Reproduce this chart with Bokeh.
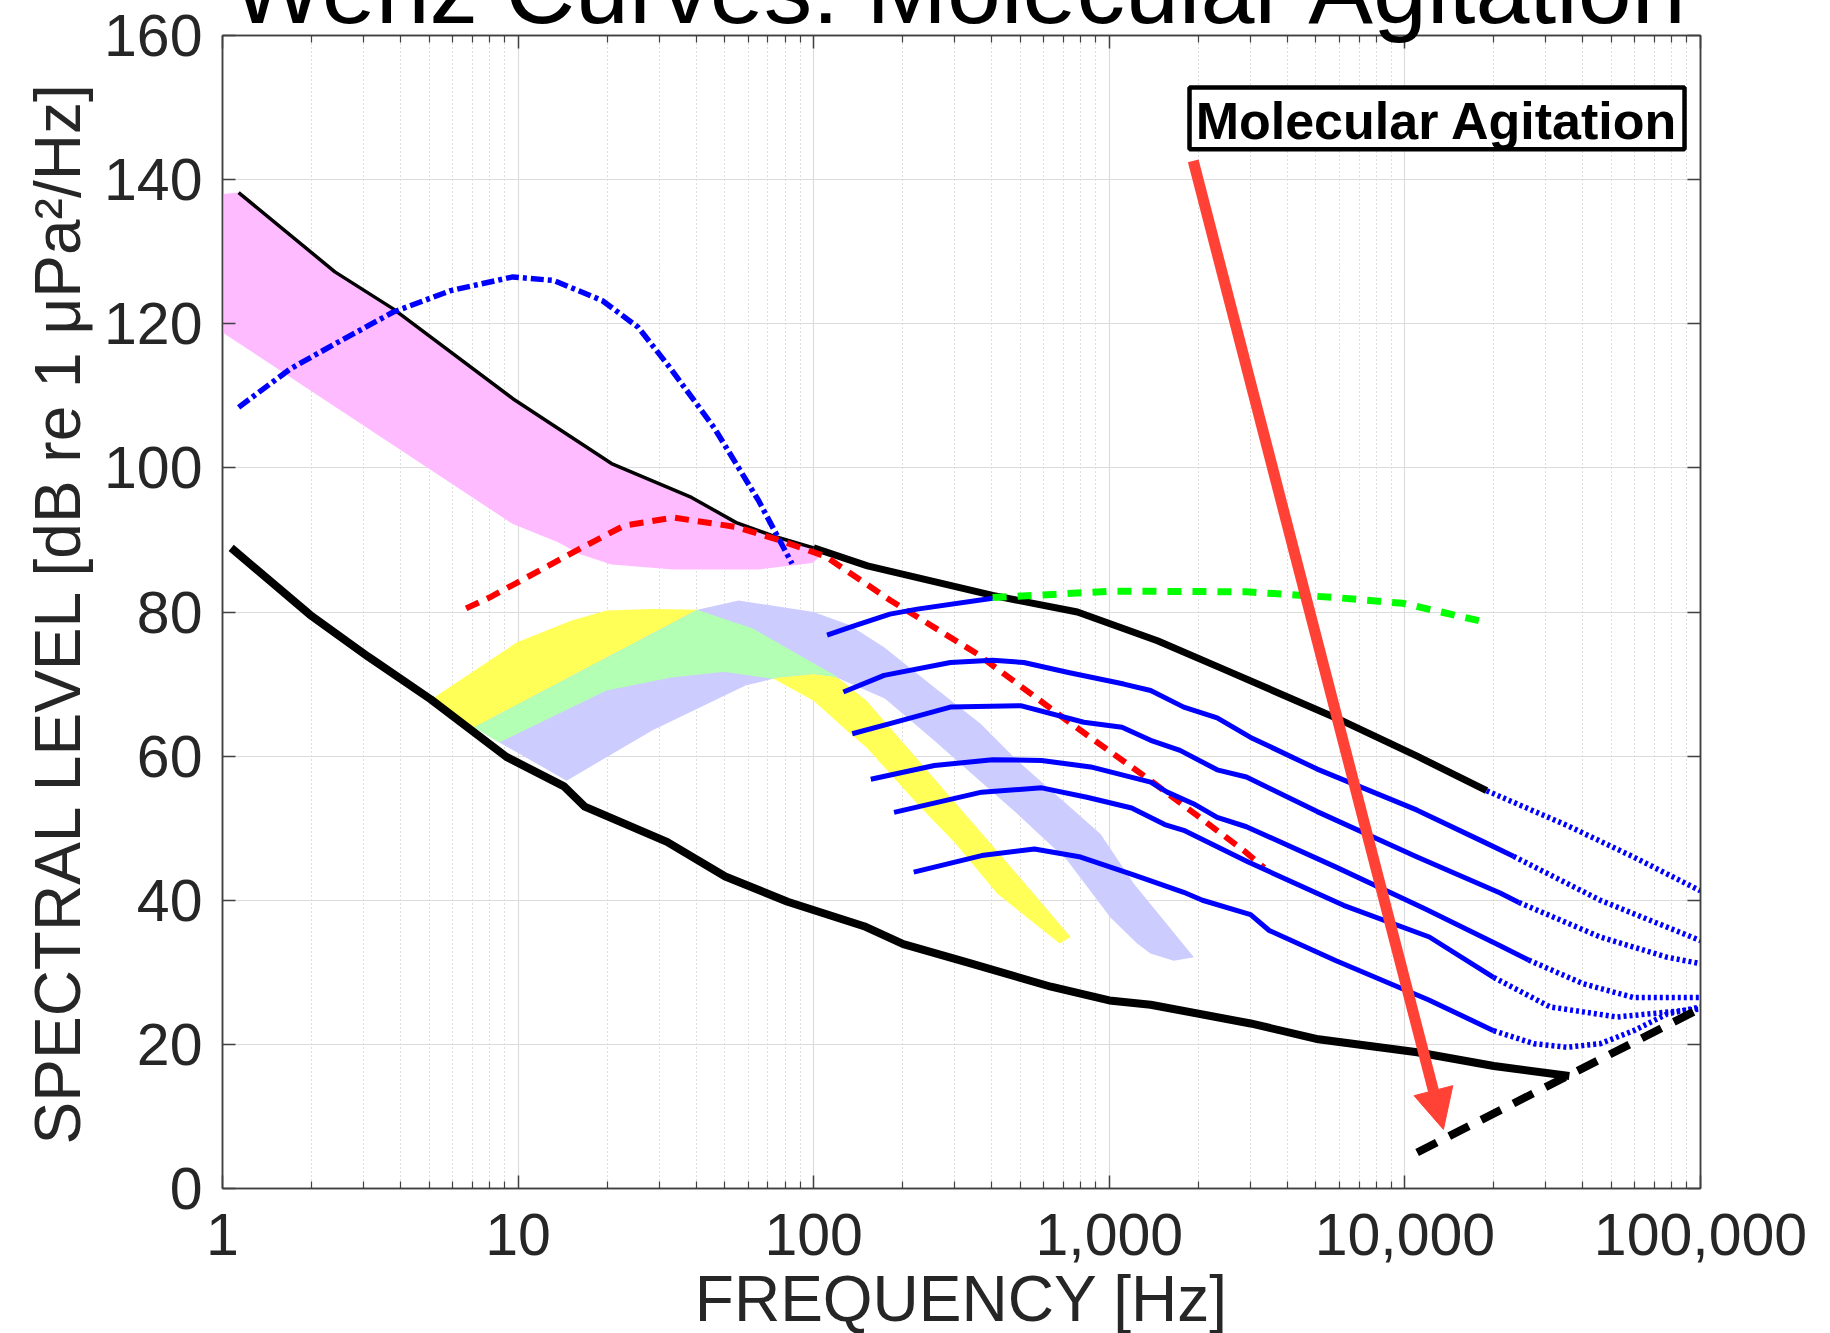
import numpy as np
from bokeh.plotting import figure
from bokeh.models import (Range1d, FixedTicker, NumeralTickFormatter, LogAxis, LinearAxis,
                          Label, BoxAnnotation, Arrow, NormalHead)
from bokeh.embed import file_html
from bokeh.resources import INLINE

# ---------------- data (frequency in Hz, level in dB re 1 uPa^2/Hz) ----------------
# turbulent-pressure band (pink)
pink_top_hz = [1.0, 1.134, 2.40, 3.77, 9.6, 20.7, 38.6, 54.7, 74.8, 100, 106]
pink_top_db = [138.0, 138.2, 127.2, 122.1, 109.6, 100.6, 95.9, 92.4, 90.4, 88.9, 87.8]
pink_bot_hz = [1.0, 9.6, 13.6, 16.2, 20.7, 33.6, 65, 98.8]
pink_bot_db = [118.8, 92.2, 89.7, 88.0, 86.6, 85.9, 85.9, 86.8]

# yellow band
yel_top_hz = [5.09, 9.92, 15.1, 19.9, 28.5, 40.4, 62.2, 118, 151, 224, 418, 740]
yel_top_db = [67.9, 75.8, 78.8, 80.2, 80.4, 80.3, 77.7, 71.2, 67.7, 59.6, 46.8, 34.9]
yel_bot_hz = [5.09, 7.11, 8.64, 19.9, 32.8, 49.8, 73.5, 99.9, 133, 151, 224, 303, 418, 680]
yel_bot_db = [67.9, 64.0, 61.9, 69.1, 70.9, 71.7, 70.7, 67.7, 63.1, 61.2, 53.4, 47.8, 40.9, 34.0]

# lavender band
lav_top_hz = [7.11, 40.4, 55.7, 99.9, 132, 173, 255, 367, 488, 934, 1211, 1933]
lav_top_db = [64.0, 80.3, 81.6, 80.0, 78.2, 75.1, 69.6, 64.5, 59.4, 49.2, 42.3, 32.1]
lav_bot_hz = [7.11, 8.64, 14.6, 28.5, 58.8, 75.6, 99.9, 118, 174, 255, 488, 721, 1009, 1242, 1377, 1652]
lav_bot_db = [64.0, 61.9, 56.6, 63.6, 69.8, 70.9, 71.4, 71.0, 68.0, 62.2, 52.0, 45.5, 37.6, 34.0, 32.6, 31.6]

# upper limit of prevailing noise (black)
upper_thin_hz = [1.134, 2.40, 3.77, 9.6, 20.7, 38.6, 54.7, 74.8, 100]
upper_thin_db = [138.2, 127.2, 122.1, 109.6, 100.6, 95.9, 92.4, 90.4, 88.9]
upper_thick_hz = [100, 152, 403, 780, 1455, 2455, 5850, 11000, 18900]
upper_thick_db = [88.9, 86.4, 82.3, 80.0, 76.0, 72.0, 65.3, 60.0, 55.2]
upper_ext_hz = [18900, 35300, 59400, 100000]
upper_ext_db = [55.2, 50.4, 46.0, 41.3]

# lower limit of prevailing noise (black)
lower_hz = [1.07, 1.98, 3.11, 5.06, 9.13, 14.3, 16.8, 31.9, 50.2, 81.6, 148, 201, 335, 635,
            1000, 1380, 3006, 5100, 11000, 20000, 36000]
lower_db = [88.9, 79.6, 73.8, 67.9, 59.9, 55.8, 53.0, 48.1, 43.3, 39.8, 36.4, 33.9, 31.3, 28.0,
            26.1, 25.5, 22.9, 20.7, 18.9, 17.0, 15.6]

# blue dash-dot
seis_hz = [1.134, 1.69, 2.40, 3.77, 5.92, 9.6, 13.2, 19.3, 25.5, 32.5, 46, 65, 84.5]
seis_db = [108.4, 113.7, 117.2, 121.6, 124.6, 126.5, 126.0, 123.2, 119.5, 114.0, 105.6, 95.5, 86.7]

# red dashed
red_hz = [6.67, 8.0, 16.2, 22.9, 33.6, 54.7, 77.3, 109.7, 182, 357, 721, 1380, 2850, 3340]
red_db = [80.5, 82.0, 88.8, 92.0, 93.1, 91.8, 89.9, 87.7, 81.6, 74.2, 64.9, 56.6, 46.9, 44.5]

# green dashed
green_hz = [403, 1030, 2910, 5850, 9860, 17800]
green_db = [82.0, 82.9, 82.8, 82.0, 81.2, 78.8]

# blue solid family
c1_hz = [111, 133, 181, 224, 403]
c1_db = [76.8, 77.9, 79.7, 80.4, 81.9]
c2_hz = [126, 173, 290, 403, 514, 727, 1120, 1380, 1786, 2317, 3006, 5050, 11000, 18470, 23300]
c2_db = [68.9, 71.2, 73.0, 73.3, 73.0, 71.6, 70.0, 69.1, 66.8, 65.3, 62.6, 58.2, 52.5, 48.1, 46.1]
c3_hz = [135, 181, 290, 501, 820, 1104, 1380, 1735, 2317, 2910, 5050, 11000, 21000, 24300]
c3_db = [63.1, 64.5, 66.8, 67.0, 64.7, 64.0, 62.2, 60.8, 58.1, 57.1, 52.3, 46.0, 41.0, 39.7]
c4_hz = [156, 256, 403, 590, 865, 1380, 1570, 1925, 2317, 2910, 5850, 11730, 21000, 26200]
c4_db = [56.8, 58.7, 59.5, 59.4, 58.5, 56.4, 55.0, 53.4, 51.5, 50.2, 44.6, 38.8, 33.7, 31.7]
c5_hz = [187, 370, 590, 840, 1190, 1540, 1786, 2950, 6200, 12100, 19950]
c5_db = [52.2, 55.0, 55.6, 54.3, 52.8, 50.5, 49.7, 45.3, 39.3, 34.9, 29.3]
c6_hz = [218, 370, 558, 800, 1215, 1786, 2066, 3006, 3476, 5850, 12000, 19950]
c6_db = [43.9, 46.2, 47.1, 46.0, 43.5, 41.1, 40.0, 38.0, 35.8, 31.6, 26.2, 21.9]

# dotted extensions
e2_hz = [23300, 45800, 100000]
e2_db = [46.1, 40.0, 34.4]
e3_hz = [24300, 45800, 77000, 100000]
e3_db = [39.7, 34.9, 32.1, 31.2]
e4_hz = [26200, 40200, 59400, 100000]
e4_db = [31.7, 28.4, 26.5, 26.5]
e5_hz = [19950, 31000, 52200, 87700, 100000]
e5_db = [29.3, 25.2, 23.8, 24.7, 24.9]
e6_hz = [19950, 27300, 35300, 45800, 59400, 77000, 100000]
e6_db = [21.9, 20.1, 19.6, 20.1, 21.9, 24.2, 25.2]

# thermal (molecular agitation) noise
thermal_hz = [11000, 100000]
thermal_db = [5.0, 25.0]

# axis ticks
x_decades = [1, 10, 100, 1000, 10000, 100000]
y_ticks = [0, 20, 40, 60, 80, 100, 120, 140, 160]

# annotation arrow (from label towards thermal line)
arrow_from = (1923, 142.6)
arrow_to = (13500, 8.2)

# ---------------- styling ----------------
RED_ARROW = "#FF4136"
TXT = "#262626"
AX = "#404040"
FONT = "Liberation Sans"
HEADING_OVERHANG = 70   # px of the heading strip that runs above the page top
FOOT_OVERHANG = 20      # px of the canvas that runs below the page bottom

p = figure(width=1830, height=1333 + HEADING_OVERHANG + FOOT_OVERHANG, x_axis_type="log",
           x_range=Range1d(1, 1e5), y_range=Range1d(0, 160),
           output_backend="svg", toolbar_location=None,
           min_border_left=222, min_border_right=130,
           min_border_top=35 + HEADING_OVERHANG, min_border_bottom=145 + FOOT_OVERHANG)
p.styles = {"margin-top": f"-{HEADING_OVERHANG}px"}
p.background_fill_color = "white"
p.border_fill_color = "white"
p.outline_line_color = AX
p.outline_line_width = 1.5

x_minor = [m * d for d in x_decades[:-1] for m in range(2, 10)]
xticker = FixedTicker(ticks=x_decades, minor_ticks=x_minor)
yticker = FixedTicker(ticks=y_ticks, minor_ticks=[])

xa = p.xaxis[0]
xa.ticker = xticker
xa.formatter = NumeralTickFormatter(format="0,0")
ya = p.yaxis[0]
ya.ticker = yticker

tick_style = dict(major_tick_in=13, major_tick_out=0, minor_tick_in=7, minor_tick_out=0,
                  axis_line_color=AX, axis_line_width=1.5,
                  major_tick_line_color=AX, minor_tick_line_color=AX,
                  major_tick_line_width=1.5, minor_tick_line_width=1.2)

for ax in (xa, ya):
    for k, v in tick_style.items():
        setattr(ax, k, v)
    ax.major_label_text_font = FONT
    ax.major_label_text_font_size = "59px"
    ax.major_label_text_color = TXT
    ax.axis_label_text_font = FONT
    ax.axis_label_text_font_style = "normal"
    ax.axis_label_text_color = TXT
    ax.axis_label_text_font_size = "64px"
xa.major_label_standoff = 25
ya.major_label_standoff = 20
ya.minor_tick_in = 0

xa.axis_label = "FREQUENCY [Hz]"
xa.axis_label_standoff = 5
ya.axis_label = "SPECTRAL LEVEL [dB re 1 \u03bcPa\u00b2/Hz]"
ya.axis_label_standoff = 7

# mirrored tick marks on the top and right edges; the top one carries the heading
top = LogAxis(ticker=xticker, major_label_text_font_size="1px", major_label_text_alpha=0,
              major_label_standoff=0, **tick_style)
top.axis_label = "Wenz Curves: Molecular Agitation"
top.axis_label_text_font = FONT
top.axis_label_text_font_style = "normal"
top.axis_label_text_font_size = "97px"
top.axis_label_text_color = "black"
top.axis_label_standoff = -8
right = LinearAxis(ticker=yticker, major_label_text_font_size="1px", major_label_text_alpha=0,
                   major_label_standoff=0, **tick_style)
right.minor_tick_in = 0
p.add_layout(top, "above")
p.add_layout(right, "right")

p.xgrid.ticker = xticker
p.ygrid.ticker = yticker
p.xgrid.grid_line_color = "#dcdcdc"
p.ygrid.grid_line_color = "#dcdcdc"
p.xgrid.grid_line_width = 1.2
p.ygrid.grid_line_width = 1.2
p.xgrid.minor_grid_line_color = "#bdbdbd"
p.xgrid.minor_grid_line_dash = "1 3"
p.xgrid.minor_grid_line_width = 1

# ---------------- bands ----------------
p.patch(pink_top_hz + pink_bot_hz[::-1], pink_top_db + pink_bot_db[::-1],
        fill_color="#FFBBFF", line_color=None)
p.patch(yel_top_hz + yel_bot_hz[::-1], yel_top_db + yel_bot_db[::-1],
        fill_color="#FFFF57", line_color=None)
p.patch(lav_top_hz + lav_bot_hz[::-1], lav_top_db + lav_bot_db[::-1],
        fill_color="#CCCCFF", line_color=None)

# overlap of the yellow and lavender bands
lf = np.linspace(np.log10(max(yel_top_hz[0], lav_top_hz[0])),
                 np.log10(min(yel_bot_hz[-1], lav_bot_hz[-1])), 800)


def edge(hz, db):
    return np.interp(lf, np.log10(hz), db)


ov_lo = np.maximum(edge(yel_bot_hz, yel_bot_db), edge(lav_bot_hz, lav_bot_db))
ov_hi = np.minimum(edge(yel_top_hz, yel_top_db), edge(lav_top_hz, lav_top_db))
ov_hi = np.maximum(ov_hi, ov_lo)
p.varea(x=10 ** lf, y1=ov_lo, y2=ov_hi, fill_color="#B3FFB3")

# ---------------- curves ----------------
p.line(upper_thin_hz, upper_thin_db, line_color="black", line_width=3.5, line_join="round")
p.line(upper_thick_hz, upper_thick_db, line_color="black", line_width=7, line_join="round")
p.line(lower_hz, lower_db, line_color="black", line_width=8, line_join="round")

p.line(seis_hz, seis_db, line_color="#0000FF", line_width=5.5, line_dash="13 4 4 4")
p.line(red_hz, red_db, line_color="#FF0000", line_width=6, line_dash="14 9")

blue_curves = [(c1_hz, c1_db), (c2_hz, c2_db), (c3_hz, c3_db),
               (c4_hz, c4_db), (c5_hz, c5_db), (c6_hz, c6_db)]
for hz, db in blue_curves:
    p.line(hz, db, line_color="#0000FF", line_width=5, line_join="round")

p.line(green_hz, green_db, line_color="#00FF00", line_width=7, line_dash="14 11")

extensions = [(upper_ext_hz, upper_ext_db), (e2_hz, e2_db), (e3_hz, e3_db),
              (e4_hz, e4_db), (e5_hz, e5_db), (e6_hz, e6_db)]
for hz, db in extensions:
    p.line(hz, db, line_color="#0000FF", line_width=5.5, line_dash="3 3")

p.line(thermal_hz, thermal_db, line_color="black", line_width=8, line_dash="22 14")

# ---------------- annotations ----------------
p.add_layout(Arrow(x_start=arrow_from[0], y_start=arrow_from[1],
                   x_end=arrow_to[0], y_end=arrow_to[1],
                   line_color=RED_ARROW, line_width=11,
                   end=NormalHead(size=40, fill_color=RED_ARROW, line_color=RED_ARROW, line_width=1)))

p.add_layout(BoxAnnotation(left=1868, right=88300, bottom=144.2, top=152.8,
                           fill_color="white", fill_alpha=1.0,
                           line_color="black", line_width=4.5, line_alpha=1.0))
p.add_layout(Label(x=12830, y=148.1, text="Molecular Agitation",
                   text_font=FONT, text_font_style="bold", text_font_size="52px",
                   text_color="black", text_align="center", text_baseline="middle"))

open("out.html", "w").write(file_html(p, INLINE))
